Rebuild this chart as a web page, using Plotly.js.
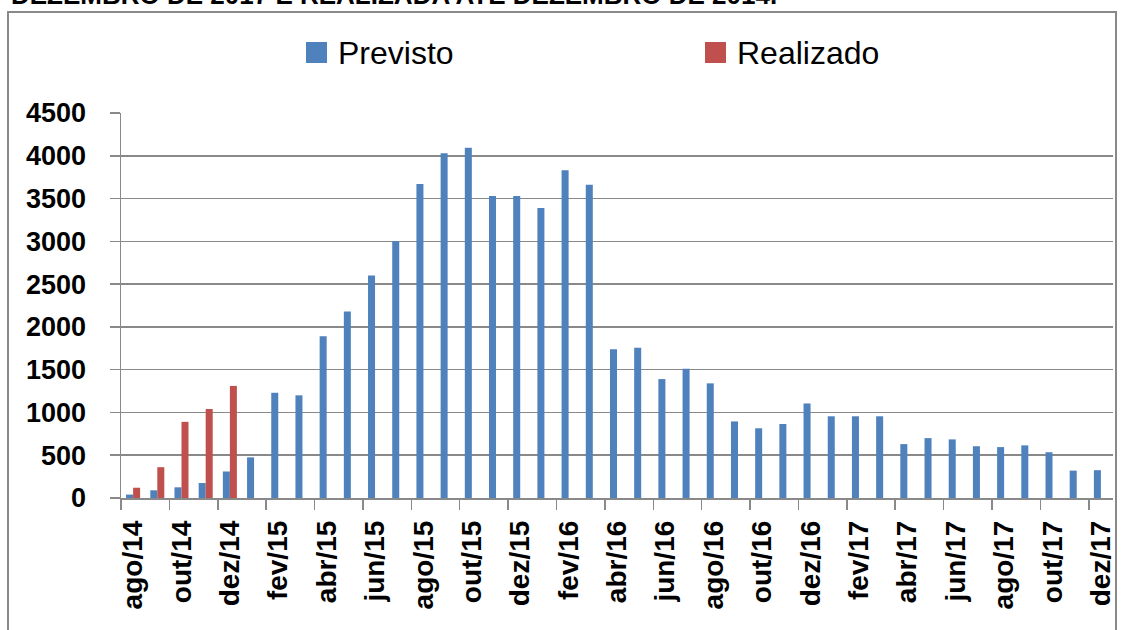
<!DOCTYPE html>
<html>
<head>
<meta charset="utf-8">
<script src="https://cdn.plot.ly/plotly-3.0.1.min.js"></script>
<style>html,body{margin:0;padding:0;background:#fff;}#chart{width:1125px;height:630px;}</style>
</head>
<body>
<div id="chart"></div>
<script>
const months = ['ago/14','set/14','out/14','nov/14','dez/14',
  'jan/15','fev/15','mar/15','abr/15','mai/15','jun/15','jul/15','ago/15','set/15','out/15','nov/15','dez/15',
  'jan/16','fev/16','mar/16','abr/16','mai/16','jun/16','jul/16','ago/16','set/16','out/16','nov/16','dez/16',
  'jan/17','fev/17','mar/17','abr/17','mai/17','jun/17','jul/17','ago/17','set/17','out/17','nov/17','dez/17'];
const previsto = [40,90,125,175,310,
  475,1230,1200,1890,2180,2600,3000,3670,4030,4095,3530,3530,
  3390,3830,3660,1740,1755,1390,1510,1340,895,815,865,1105,
  955,955,955,630,700,685,605,595,615,535,320,325];
const realizado = [120,360,890,1040,1310];
const seriesNames = ['Previsto','Realizado'];
const seriesColors = ['#4F81BD','#C0504D'];
const headingText = 'DEZEMBRO DE 2017 E REALIZADA ATÉ DEZEMBRO DE 2014.';

const W = 1125, H = 630;
const M = {l:121, r:12, t:113, b:132};
const PW = W - M.l - M.r, PH = H - M.t - M.b;
const px2x = p => (p - M.l) / PW;
const px2y = p => (H - M.b - p) / PH;

const traces = [
  {type:'bar', name:seriesNames[0], x:months, y:previsto, marker:{color:seriesColors[0]}},
  {type:'bar', name:seriesNames[1], x:months.slice(0, realizado.length), y:realizado, marker:{color:seriesColors[1]}}
];

const gray = '#898989';
const font = 'Liberation Sans, Arial, sans-serif';

const legendItems = [
  {name:seriesNames[0], color:seriesColors[0], x:306},
  {name:seriesNames[1], color:seriesColors[1], x:705}
];
const shapes = [
  {type:'rect', xref:'paper', yref:'paper', x0:px2x(8), x1:px2x(1116), y0:px2y(645), y1:px2y(12),
   line:{color:gray, width:2}, fillcolor:'rgba(0,0,0,0)', layer:'below'}
];
const annotations = [
  {xref:'paper', yref:'paper', x:px2x(9), y:px2y(12), xanchor:'left', yanchor:'bottom', showarrow:false,
   text:'<b>'+headingText+'</b>', font:{family:font, size:26, color:'#000'}}
];
legendItems.forEach(it => {
  shapes.push({type:'rect', xref:'paper', yref:'paper', x0:px2x(it.x), x1:px2x(it.x+21), y0:px2y(63), y1:px2y(42),
    line:{width:0}, fillcolor:it.color});
  annotations.push({xref:'paper', yref:'paper', x:px2x(it.x+30), y:px2y(53), xanchor:'left', yanchor:'middle',
    showarrow:false, text:it.name, font:{family:font, size:32, color:'#000'}});
});

const layout = {
  width:W, height:H, margin:M,
  paper_bgcolor:'#fff', plot_bgcolor:'#fff',
  showlegend:false,
  barmode:'group', bargap:0.42, bargroupgap:0,
  font:{family:font, color:'#000'},
  xaxis:{type:'category', tickmode:'linear', tick0:0, dtick:2, tickson:'boundaries',
    tickangle:-90, ticks:'outside', ticklen:10, tickwidth:1.5, tickcolor:gray,
    showline:true, linecolor:gray, linewidth:1.5, showgrid:false,
    ticklabelstandoff:10,
    tickfont:{family:font, size:28, color:'#000', weight:'bold'}},
  yaxis:{range:[0,4500], tickmode:'linear', tick0:0, dtick:500, ticks:'outside', ticklen:10, tickwidth:1.5,
    tickcolor:gray, showline:true, linecolor:gray, linewidth:1.5, showgrid:true, gridcolor:gray, gridwidth:1.5,
    zeroline:false, ticklabelstandoff:18,
    tickfont:{family:font, size:27, color:'#000', weight:'bold'}},
  shapes:shapes, annotations:annotations
};

Plotly.newPlot('chart', traces, layout, {displayModeBar:false, staticPlot:true});
</script>
</body>
</html>
